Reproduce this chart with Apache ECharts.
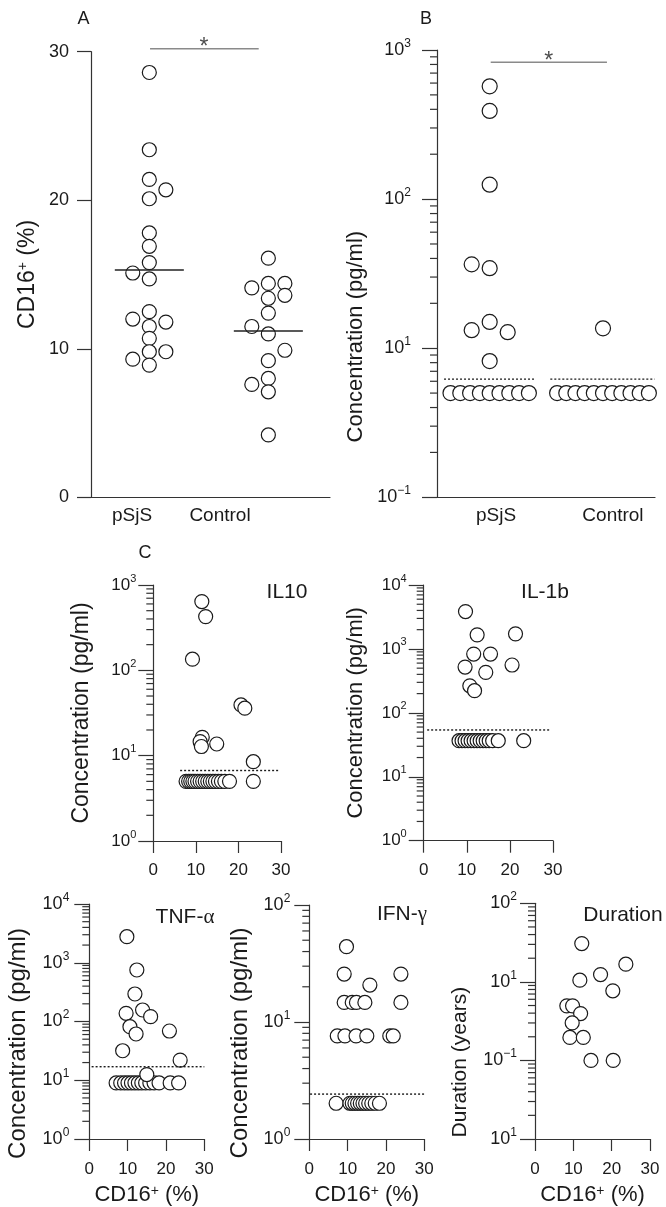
<!DOCTYPE html>
<html><head><meta charset="utf-8">
<script src="https://cdn.jsdelivr.net/npm/echarts@6/dist/echarts.min.js"></script>
<style>html,body{margin:0;padding:0;background:#fff}#c{width:666px;height:1207px}</style>
</head><body><div id="c"></div>
<script>
// ================= DATA =================
const groupsAB = ['pSjS', 'Control'];
// Panel A: [lateral slot, CD16+ (%)]
const aPSjS = [[0,28.6],[0,23.4],[0,21.4],[1,20.7],[0,20.1],[0,17.8],[0,16.9],[0,15.8],[-1,15.1],[0,14.7],[0,12.5],[-1,12.0],[1,11.8],[0,11.5],[0,10.7],[0,9.8],[1,9.8],[-1,9.3],[0,8.9]];
const aControl = [[0,16.1],[0,14.4],[1,14.4],[-1,14.1],[1,13.6],[0,13.4],[0,12.4],[-1,11.5],[0,11.0],[1,9.9],[0,9.2],[0,8.0],[-1,7.6],[0,7.1],[0,4.2]];
const aMeans = [15.3, 11.2];
const aTicks = [0, 10, 20, 30];
const aSignif = 30.2;

// Panel B: [lateral slot, concentration]
const bPSjSHigh = [[0,571],[0,390],[0,125],[-1,36.5],[0,34.4],[0,15.0],[-1,13.2],[1,12.8],[0,8.2]];
const bPSjSLow = [5,5,5,5,5,5,5,5,5];
const bControlHigh = [[0,13.6]];
const bControlLow = [5,5,5,5,5,5,5,5,5,5,5];
const bLimit = 6.2;
const bSignif = 827;
const bTickValues = [1, 10, 100, 1000];
const bTickExp = ['\u22121', '1', '2', '3'];

// Panel C: [CD16+ (%), value]
const il10Low = [[7.7,5],[8.3,5],[8.8,5],[9.3,5],[9.8,5],[10.4,5],[11.0,5],[11.6,5],[12.2,5],[12.8,5],[13.4,5],[14.0,5],[14.6,5],[15.3,5],[16.0,5],[16.8,5],[17.9,5],[23.5,5]];
const il10High = [[11.4,639],[12.3,426],[9.2,135],[20.6,39.3],[21.5,36],[11.5,16.4],[11.0,14.6],[11.3,12.8],[14.9,13.7],[23.5,8.5]];
const il10Limit = 6.7;

const il1bLow = [[8.2,36.7],[8.9,36.7],[9.6,36.7],[10.3,36.7],[11.0,36.7],[11.7,36.7],[12.4,36.7],[13.1,36.7],[13.8,36.7],[14.5,36.7],[15.2,36.7],[16.0,36.7],[17.3,36.7],[23.2,36.7]];
const il1bHigh = [[9.7,3840],[12.4,1660],[21.3,1720],[11.6,830],[15.5,830],[9.6,520],[20.5,560],[14.4,430],[10.7,265],[11.8,222]];
const il1bLimit = 54;

const tnfLow = [[7.0,9],[8.2,9],[9.2,9],[10.1,9],[11.0,9],[11.9,9],[12.8,9],[13.7,9],[14.7,9],[15.8,9],[16.9,9],[18.2,9],[21.1,9],[23.3,9]];
const tnfHigh = [[9.8,2775],[12.4,753],[11.9,294],[9.6,138],[13.9,157],[16.0,121],[10.6,81.6],[12.2,61.3],[20.9,68.9],[8.7,31.8],[23.7,22],[15.0,12.5]];
const tnfLimit = 17;

const ifnLow = [[7.0,2.02],[10.6,2.02],[11.2,2.02],[11.9,2.02],[12.6,2.02],[13.3,2.02],[14.0,2.02],[14.7,2.02],[15.5,2.02],[16.3,2.02],[17.2,2.02],[18.3,2.02]];
const ifnHigh = [[7.3,7.6],[9.3,7.6],[12.2,7.6],[15.0,7.6],[21.0,7.6],[21.9,7.6],[9.1,14.7],[11.2,14.7],[12.3,14.7],[14.5,14.7],[23.9,14.7],[15.8,20.7],[9.1,25.7],[23.9,25.7],[9.7,44]];
const ifnLimit = 2.42;

const duration = [[12.2,30.7],[23.7,16.8],[17.1,12.4],[11.7,10.5],[20.3,7.7],[8.3,4.95],[9.8,4.95],[11.9,3.95],[9.7,3.0],[9.1,1.96],[12.6,1.96],[14.6,1.0],[20.4,1.0]];
const durTickValues = [0.1, 1, 10, 100];
const durTickExp = ['1', '\u22121', '1', '2'];

// ================= LAYOUT / STYLE =================
const AX = '#333';
const INK = '#1a1a1a';
const FONT = '"Liberation Sans", Arial, Helvetica, sans-serif';
const supRich = (fs) => ({ s: { fontSize: fs, lineHeight: fs, verticalAlign: 'top', fontFamily: FONT, color: INK } });

const grids = [
  {left:91, top:51.7, width:239, height:445.6},
  {left:437, top:50, width:218, height:447.3},
  {left:153.3, top:585, width:127.7, height:256},
  {left:423.7, top:585, width:129.3, height:255.7},
  {left:89.3, top:904, width:115, height:235},
  {left:309.3, top:905, width:115, height:234},
  {left:535, top:903.3, width:115, height:235.7}
].map(g => Object.assign({containLabel:false, outerBoundsMode:'none'}, g));

const xAxes = [], yAxes = [], series = [];
const lineSt = {color: AX, width: 1.2};

// minor tick values of a log axis: 2..9 x 10^e
function minorValues(lo, hi) {
  const out = [];
  for (let e = lo; e < hi; e++) for (let m = 2; m <= 9; m++) out.push(m * Math.pow(10, e));
  return out;
}
// short outward minor ticks, placed through the axes' own scales
function minorTicks(xi, yi, xAt, values) {
  series.push({type:'custom', xAxisIndex:xi, yAxisIndex:yi, data: values.map(v => [xAt, v]), silent:true, clip:false, z:2,
    renderItem: (params, api) => {
      const p = api.coord([api.value(0), api.value(1)]);
      return {type:'line', shape:{x1:p[0] - 7, y1:p[1], x2:p[0], y2:p[1]}, style:{stroke:AX, lineWidth:1.2}};
    }});
}
function nameStyle(fs, pad) {
  return {fontSize: fs, lineHeight: fs, color: INK, fontFamily: FONT, rich: supRich(Math.round(fs*0.62)), padding: pad || 0};
}
function addLogY(gi, min, max, o) {
  const idx = yAxes.length;
  yAxes.push({
    type:'log', logBase:10, gridIndex:gi, min, max,
    axisLine:{show:true, lineStyle:lineSt},
    axisTick:{show:true, length:15, lineStyle:lineSt},
    axisLabel:{show:true, fontSize:o.tf, lineHeight: Math.round(o.tf*1.4), color:INK, fontFamily:FONT, margin:o.margin,
      rich: supRich(Math.round(o.tf*0.66)),
      formatter: o.formatter || (v => { const e = Math.round(Math.log10(v)); return '10{s|' + (e < 0 ? '\u2212' + (-e) : e) + '}'; })},
    splitLine:{show:false},
    name:o.name, nameLocation:'middle', nameRotate:90, nameGap:o.gap, nameTextStyle: nameStyle(o.nf, o.pad)
  });
  return idx;
}
function addCX(gi, withName, margin) {
  const idx = xAxes.length;
  xAxes.push({
    type:'value', gridIndex:gi, min:0, max:30, interval:10,
    axisLine:{show:true, onZero:false, lineStyle:lineSt},
    axisTick:{show:true, length:12, lineStyle:lineSt},
    axisLabel:{fontSize:17, color:INK, fontFamily:FONT, margin:margin},
    splitLine:{show:false},
    name: withName ? 'CD16{s|+} (%)' : '', nameLocation:'middle', nameGap:45, nameTextStyle: nameStyle(22)
  });
  return idx;
}
function scatter(xi, yi, data, size, z) {
  series.push({type:'scatter', xAxisIndex:xi, yAxisIndex:yi, data, symbol:'circle', symbolSize:size,
    itemStyle:{color:'#fff', borderColor:INK, borderWidth:1.2, opacity:1}, silent:true, clip:false, z: z || 3});
}
function seg(xi, yi, data, style, z) {
  series.push({type:'line', xAxisIndex:xi, yAxisIndex:yi, data, symbol:'none', showSymbol:false,
    lineStyle:style, silent:true, clip:false, z: z || 4});
}
function star(xi, yi, pt) {
  series.push({type:'scatter', xAxisIndex:xi, yAxisIndex:yi, data:[pt], symbolSize:0, silent:true, clip:false, z:5,
    label:{show:true, formatter:'*', position:'inside', offset:[0,-1], fontSize:23, color:'#222', fontFamily:FONT}});
}
const dotted = {color: INK, width: 1.4, type: [2, 2]};
const signifStyle = {color: '#8a8a8a', width: 1.5};

// ---------- Panel A ----------
const A_SLOT = 0.139, A_HALF = 0.29;
xAxes.push({
  type:'value', gridIndex:0, min:0.51, max:2.518,
  axisLine:{show:true, onZero:false, lineStyle:lineSt}, axisTick:{show:false}, splitLine:{show:false},
  axisLabel:{fontSize:19, color:INK, fontFamily:FONT, margin:9, customValues:[0.855, 1.594],
    formatter:(v) => v < 1.2 ? groupsAB[0] : groupsAB[1]}
});
yAxes.push({
  type:'value', gridIndex:0, min:aTicks[0], max:aTicks[aTicks.length-1], interval:10,
  axisLine:{show:true, lineStyle:lineSt}, axisTick:{show:true, length:14, lineStyle:lineSt},
  axisLabel:{fontSize:18, color:INK, fontFamily:FONT, margin:22}, splitLine:{show:false},
  name:'CD16{s|+} (%)', nameLocation:'middle', nameRotate:90, nameGap:52, nameTextStyle: nameStyle(23)
});
scatter(0, 0, aPSjS.map(p => [1 + p[0]*A_SLOT, p[1]]), 14);
scatter(0, 0, aControl.map(p => [2 + p[0]*A_SLOT, p[1]]), 14);
aMeans.forEach((m, i) => seg(0, 0, [[i+1-A_HALF, m], [i+1+A_HALF, m]], {color: '#222', width: 1.6}, 5));
seg(0, 0, [[1.006, aSignif], [1.919, aSignif]], signifStyle);
star(0, 0, [1.46, aSignif]);

// ---------- Panel B ----------
const B_SLOT = 0.159, B_XMIN = 0.535;
xAxes.push({
  type:'value', gridIndex:1, min:B_XMIN, max:2.459,
  axisLine:{show:true, onZero:false, lineStyle:lineSt}, axisTick:{show:false}, splitLine:{show:false},
  axisLabel:{fontSize:19, color:INK, fontFamily:FONT, margin:9, customValues:[1.056, 2.088],
    formatter:(v) => v < 1.5 ? groupsAB[0] : groupsAB[1]}
});
const yB = addLogY(1, 1, 1000, {tf:18, margin:26, name:'Concentration (pg/ml)', gap:70, nf:22, pad:[0,126,0,0],
  formatter: v => { const i = bTickValues.findIndex(t => Math.abs(t - v) / t < 1e-6); return i < 0 ? '' : '10{s|' + bTickExp[i] + '}'; }});
minorTicks(1, yB, B_XMIN, minorValues(0, 3));
scatter(1, yB, bPSjSLow.map((v, i) => [1 + (i - (bPSjSLow.length-1)/2)*0.0865, v]), 15);
scatter(1, yB, bControlLow.map((v, i) => [2 + (i - (bControlLow.length-1)/2)*0.081, v]), 15);
scatter(1, yB, bPSjSHigh.map(p => [1 + p[0]*B_SLOT, p[1]]), 15);
scatter(1, yB, bControlHigh.map(p => [2 + p[0]*B_SLOT, p[1]]), 15);
seg(1, yB, [[0.597, bLimit], [1.397, bLimit]], dotted);
seg(1, yB, [[1.535, bLimit], [2.456, bLimit]], dotted);
seg(1, yB, [[1.009, bSignif], [2.035, bSignif]], signifStyle);
star(1, yB, [1.522, bSignif]);

// ---------- Panel C ----------
const panels = [
  {gi:2, min:1, max:1000, low:il10Low, high:il10High, limit:il10Limit, span:[6.3,29.4], tf:17, margin:17, xm:21, gap:60, nf:23, name:'Concentration (pg/ml)', xname:false},
  {gi:3, min:1, max:10000, low:il1bLow, high:il1bHigh, limit:il1bLimit, span:[0.8,29.2], tf:17, margin:17, xm:21, gap:57, nf:22, name:'Concentration (pg/ml)', xname:false},
  {gi:4, min:1, max:10000, low:tnfLow, high:tnfHigh, limit:tnfLimit, span:[0.6,30], tf:18, margin:20, xm:22, gap:59, nf:24, pad:[0,44,0,0], name:'Concentration (pg/ml)', xname:true},
  {gi:5, min:1, max:100, low:ifnLow, high:ifnHigh, limit:ifnLimit, span:[0.2,30], tf:18, margin:19, xm:22, gap:57, nf:24, pad:[0,42,0,0], name:'Concentration (pg/ml)', xname:true},
  {gi:6, min:0.1, max:100, low:[], high:duration, limit:null, tf:18, margin:18, xm:22, gap:64, nf:21, pad:[0,82,0,0], name:'Duration (years)', xname:true,
    formatter: v => { const i = durTickValues.findIndex(t => Math.abs(t - v) / t < 1e-6); return i < 0 ? '' : '10{s|' + durTickExp[i] + '}'; }}
];
panels.forEach(p => {
  const xi = addCX(p.gi, p.xname, p.xm);
  const yi = addLogY(p.gi, p.min, p.max, p);
  minorTicks(xi, yi, 0, minorValues(Math.round(Math.log10(p.min)), Math.round(Math.log10(p.max))));
  if (p.low.length) scatter(xi, yi, p.low, 14);
  scatter(xi, yi, p.high, 14);
  if (p.limit != null) seg(xi, yi, [[p.span[0], p.limit], [p.span[1], p.limit]], dotted);
});

// ---------- Text annotations ----------
const tStyle = (text, x, y, fs, rich) => ({type:'text', x, y, silent:true, z:10,
  style:{text, fontSize:fs, fontFamily:FONT, fill:INK, align:'center', verticalAlign:'middle', rich}});
const greek = {g:{fontSize:21, fontFamily:'"Liberation Serif", "DejaVu Serif", serif', fill:INK}};
const graphic = [
  tStyle('A', 83.5, 19.5, 18), tStyle('B', 426, 19.5, 18), tStyle('C', 145, 553.5, 18),
  tStyle('IL10', 287, 592, 21), tStyle('IL-1b', 545, 592, 21),
  tStyle('TNF-{g|\u03b1}', 185, 917, 21, greek), tStyle('IFN-{g|\u03b3}', 402, 914, 21, greek),
  tStyle('Duration', 623, 915, 21)
];

const chart = echarts.init(document.getElementById('c'), null, {renderer:'canvas'});
chart.setOption({
  animation:false, backgroundColor:'#fff',
  grid: grids, xAxis: xAxes, yAxis: yAxes, series, graphic
});
</script></body></html>
